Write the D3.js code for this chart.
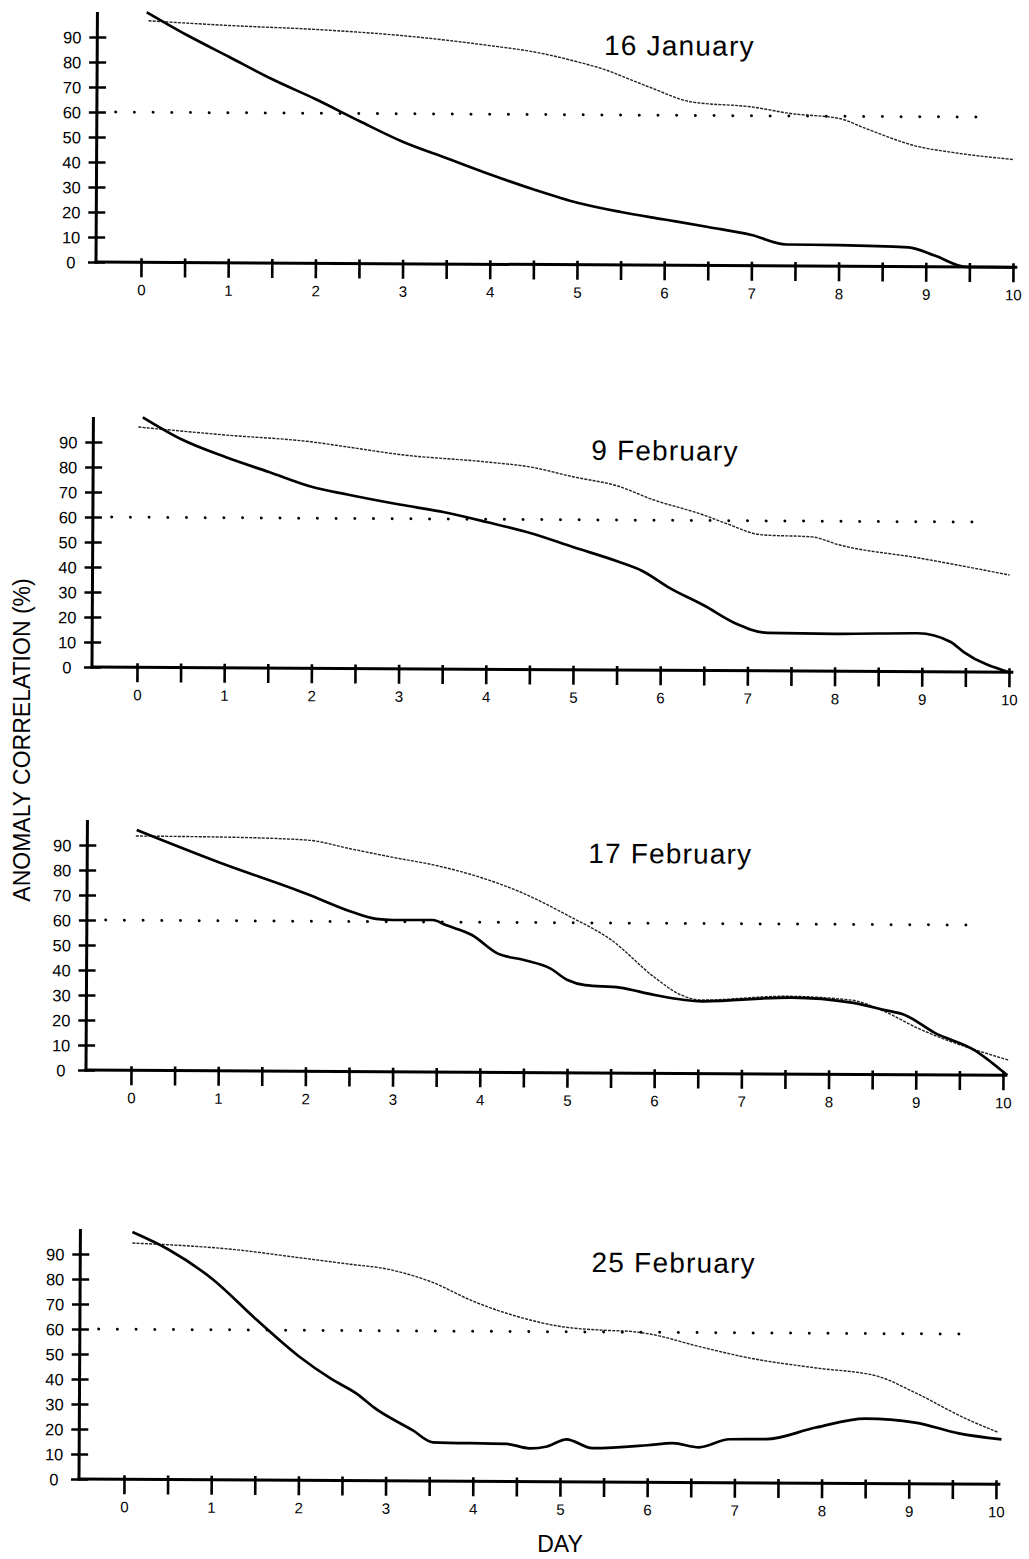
<!DOCTYPE html>
<html>
<head>
<meta charset="utf-8">
<script src="https://cdn.jsdelivr.net/npm/d3@7"></script>
<style>
  html, body { margin: 0; background: #fff; }
  svg { display: block; font-family: "Liberation Sans", Arial, Helvetica, sans-serif; }
</style>
</head>
<body>
<div id="chart"></div>
<script>
// Anomaly correlation (%) vs forecast day, four cases

const panelTitles = ["16 January", "9 February", "17 February", "25 February"];
const dayLabels   = [0, 1, 2, 3, 4, 5, 6, 7, 8, 9, 10];
const dayTicks    = [0, 0.5, 1, 1.5, 2, 2.5, 3, 3.5, 4, 4.5, 5, 5.5, 6, 6.5, 7, 7.5, 8, 8.5, 9, 9.5, 10];
const acTicks     = [0, 10, 20, 30, 40, 50, 60, 70, 80, 90];
const refLevel    = 60;          // dotted reference at 60%
const refSpan     = [-0.3, 9.72];

// [day, anomaly correlation]
const jan16Solid = [[0.05,100],[0.5,91.2],[1,82.3],[1.5,73.4],[2,65.5],[2.5,56.9],[3,48.7],[3.5,42.3],[4,35.9],
  [4.5,30],[5,24.8],[5.5,21.2],[6,18.3],[6.5,15.4],[7,12.3],[7.4,8.6],[8,8.5],[8.8,7.7],[9.1,4.5],[9.47,0],[10,0]];
const jan16Thin  = [[0.07,96.6],[1,94.9],[2,93.5],[3,91.2],[4,87.4],[4.5,85],[5,81.1],[5.3,78.2],[5.6,74.2],
  [5.85,70.8],[6.3,65.4],[7,63.5],[7.44,61],[8,59.1],[8.3,55.2],[8.9,48.1],[9.3,45.8],[10,43.1]];

const feb9Solid = [[0.05,100],[0.5,91.2],[1,84.3],[1.5,78.4],[2,72.5],[2.4,69.6],[3,65.7],[3.5,62.8],[4,58.9],
  [4.5,54.6],[5,49],[5.5,43.5],[5.8,39.5],[6.1,33],[6.5,26],[6.85,19.1],[7.23,15.2],[8,15],[8.95,15.4],
  [9.33,12],[9.48,8],[10,0]];
const feb9Thin  = [[0,96.1],[1,93.1],[2,90.5],[2.4,88.6],[3,85.7],[4,82.9],[4.5,81],[5,77.1],[5.5,73.6],[5.9,68.3],
  [6.47,62.4],[6.73,59.1],[7.16,54.4],[7.73,53.7],[8.04,50.6],[8.96,45.5],[10,38.9]];

const feb17Solid = [[0.05,96.1],[1,83.3],[2,71],[2.5,64.1],[2.8,61.1],[3,60.7],[3.45,60.8],[3.6,58.8],[3.9,54.9],
  [4.2,47.5],[4.5,45],[4.8,41.7],[5,37.1],[5.2,35.1],[5.6,34.2],[6,31.3],[6.54,28.9],[7.57,30.6],[8.26,28.7],
  [8.64,25.8],[8.87,23.9],[9.21,16.9],[9.67,10],[10.05,0]];
const feb17Thin  = [[0.04,93.7],[1,93.5],[2,92.5],[2.5,89.1],[3,85.7],[3.5,82.5],[4,77.9],[4.5,71.5],[5,62.9],
  [5.5,53.2],[6,38.3],[6.3,31.4],[6.54,29.4],[7.5,31.1],[8.26,29.7],[8.6,25.8],[9.03,18.5],[10.06,6.1]];

const feb25Solid = [[0.08,98.9],[0.5,91.9],[1,80.3],[1.5,64.4],[2,49.5],[2.37,40.6],[2.67,34.6],[2.86,29.3],
  [3.31,20.2],[3.54,15.5],[4.39,15],[4.65,13.3],[4.85,14.1],[5.07,17],[5.37,13.5],[6,14.8],[6.29,15.7],
  [6.59,14.1],[6.94,17.4],[7.36,17.5],[7.93,22.3],[8.5,26],[9.07,24.5],[9.57,20.3],[10.06,18]];
const feb25Thin  = [[0.08,94.5],[1.26,92.1],[2,89],[2.56,86.6],[3,84.7],[3.5,79.8],[4,71.9],[4.5,66],[5,62.1],
  [5.5,60.7],[5.8,60.3],[6.02,59.3],[6.59,54.4],[7.17,49.9],[7.93,46.1],[8.62,43.1],[9.07,36.4],[9.65,26.2],[10.02,20.8]];

const solidSeries = [jan16Solid, feb9Solid, feb17Solid, feb25Solid];
const thinSeries  = [jan16Thin, feb9Thin, feb17Thin, feb25Thin];

// page placement of each panel's corner (y-axis / zero line), title centre in days
const LAYOUT = [
  { left: 96, zero: 262,  titleDay: 6.16 },
  { left: 92, zero: 667,  titleDay: 6.04 },
  { left: 86, zero: 1070, titleDay: 6.17 },
  { left: 79, zero: 1479, titleDay: 6.29 }
];
const W = 1029, H = 1559;
const TILT = 0.33; // the scanned original is slightly rotated

const svg = d3.select("#chart").append("svg")
  .attr("width", W).attr("height", H).attr("viewBox", `0 0 ${W} ${H}`);

const x = d3.scaleLinear().domain([0, 10]).range([45, 917]);
const y = d3.scaleLinear().domain([0, 90]).range([0, -225]);

const line = d3.line()
  .x(d => x(d[0])).y(d => y(d[1]))
  .curve(d3.curveMonotoneX);

panelTitles.forEach((title, i) => {
  const L = LAYOUT[i];
  const g = svg.append("g")
    .attr("transform", `translate(${L.left},${L.zero}) rotate(${TILT})`);

  // y axis
  const ya = g.append("g")
    .call(d3.axisLeft(y).tickValues(acTicks).tickSize(8).tickPadding(0));
  ya.select(".domain").remove();
  ya.selectAll(".tick line").attr("x1", 9).attr("stroke", "#000").attr("stroke-width", 2.6);
  ya.selectAll(".tick text")
    .attr("x", -25).attr("text-anchor", "middle").attr("dy", "0.36em")
    .attr("font-size", 16.5).attr("font-family", null).attr("fill", "#000");
  g.append("line")
    .attr("x1", 0).attr("x2", 0).attr("y1", y(0) + 1.5).attr("y2", y(100))
    .attr("stroke", "#000").attr("stroke-width", 3);

  // x axis
  const xa = g.append("g")
    .call(d3.axisBottom(x).tickValues(dayTicks).tickSize(15)
      .tickFormat(d => dayLabels.includes(d) ? d : ""));
  xa.select(".domain").remove();
  xa.selectAll(".tick line").attr("y1", -4).attr("stroke", "#000").attr("stroke-width", 2.6);
  xa.selectAll(".tick text")
    .attr("y", 33).attr("dy", 0)
    .attr("font-size", 15).attr("font-family", null).attr("fill", "#000");
  g.append("line")
    .attr("x1", -1.5).attr("x2", x(10.05)).attr("y1", 0).attr("y2", 0)
    .attr("stroke", "#000").attr("stroke-width", 3);

  // 60% reference
  g.append("path")
    .datum(refSpan.map(d => [d, refLevel]))
    .attr("d", d3.line().x(d => x(d[0])).y(d => y(d[1])))
    .attr("fill", "none").attr("stroke", "#000").attr("stroke-width", 3)
    .attr("stroke-linecap", "round").attr("stroke-dasharray", "0,18.7");

  // thin (dotted) curve
  g.append("path")
    .datum(thinSeries[i])
    .attr("d", line)
    .attr("fill", "none").attr("stroke", "#222").attr("stroke-width", 1.4)
    .attr("stroke-dasharray", "3,1.2");

  // thick curve
  g.append("path")
    .datum(solidSeries[i])
    .attr("d", line)
    .attr("fill", "none").attr("stroke", "#000").attr("stroke-width", 2.7)
    .attr("stroke-linejoin", "round");

  // title
  g.append("text")
    .attr("x", x(L.titleDay)).attr("y", -210)
    .attr("text-anchor", "middle")
    .attr("font-size", 28).attr("letter-spacing", "1.2px")
    .text(title);
});

// shared axis titles
svg.append("text")
  .attr("transform", "translate(30,740) rotate(-90)")
  .attr("text-anchor", "middle")
  .attr("font-size", 23)
  .text("ANOMALY CORRELATION (%)");

svg.append("text")
  .attr("x", 560).attr("y", 1552)
  .attr("text-anchor", "middle")
  .attr("font-size", 23)
  .text("DAY");
</script>
</body>
</html>
